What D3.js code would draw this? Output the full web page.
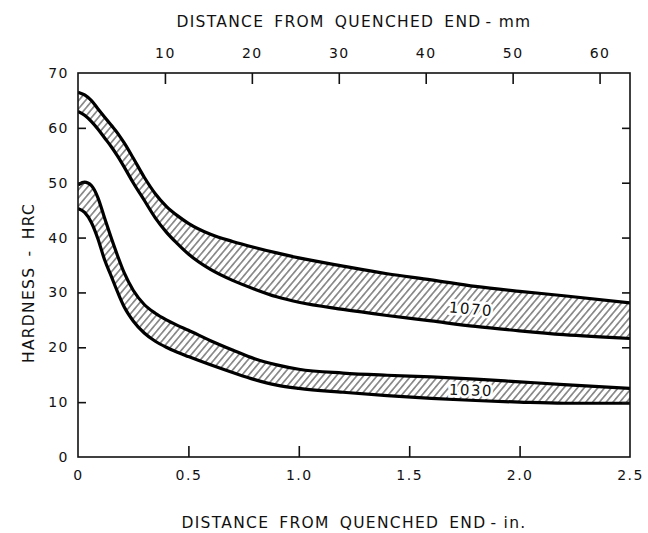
<!DOCTYPE html>
<html>
<head>
<meta charset="utf-8">
<script src="https://cdn.jsdelivr.net/npm/d3@7"></script>
<style>
  html, body { margin: 0; padding: 0; background: #fff; }
  svg { display: block; }
  text { font-family: "DejaVu Sans", "Liberation Sans", sans-serif; fill: #111; }
</style>
</head>
<body>
<svg id="chart" width="648" height="533"></svg>
<script>
// Distance from the quenched end (in.) at which each band edge is sampled
const distanceIn = [0, 0.03, 0.06, 0.09, 0.12, 0.15, 0.18, 0.21, 0.25, 0.3, 0.35, 0.4, 0.45, 0.5,
                    0.6, 0.7, 0.8, 0.9, 1.0, 1.2, 1.4, 1.6, 1.8, 2.0, 2.2, 2.5];

// Hardness band for 1070 steel (HRC)
const hrc1070Max = [66.5, 66.0, 65.0, 63.5, 62.0, 60.5, 59.0, 57.2, 54.5, 51.0, 48.0, 45.7, 44.0, 42.6,
                    40.6, 39.3, 38.2, 37.2, 36.3, 34.8, 33.4, 32.3, 31.1, 30.2, 29.4, 28.1];
const hrc1070Min = [63.0, 62.3, 61.2, 59.8, 58.2, 56.6, 54.8, 52.8, 50.0, 46.8, 43.6, 41.0, 38.9, 37.0,
                    34.2, 32.2, 30.6, 29.2, 28.2, 26.9, 25.8, 24.8, 23.8, 23.0, 22.3, 21.6];

// Hardness band for 1030 steel (HRC)
const hrc1030Max = [49.6, 50.1, 49.5, 47.3, 43.6, 40.0, 36.6, 33.5, 30.4, 27.8, 26.2, 25.0, 24.0, 23.1,
                    21.2, 19.5, 17.9, 16.8, 16.0, 15.3, 14.9, 14.6, 14.2, 13.7, 13.2, 12.5];
const hrc1030Min = [45.3, 44.6, 42.8, 39.8, 36.0, 33.0, 30.0, 27.3, 24.8, 22.6, 21.1, 20.0, 19.1, 18.3,
                    16.8, 15.4, 14.1, 13.1, 12.5, 11.8, 11.2, 10.7, 10.3, 10.0, 9.8, 9.8];

// Tick values
const inchTicks = [0, 0.5, 1.0, 1.5, 2.0, 2.5];
const mmTicks = [10, 20, 30, 40, 50, 60];
const hrcTicks = [0, 10, 20, 30, 40, 50, 60, 70];

// Band labels: [text, distance in., HRC, tilt deg]
const bandLabels = [["1070", 1.78, 27.0, 5], ["1030", 1.78, 12.2, 2]];

const svg = d3.select("#chart");
const margin = { left: 78, top: 73, right: 18, bottom: 76 };
const W = 648 - margin.left - margin.right;
const H = 533 - margin.top - margin.bottom;

const x = d3.scaleLinear().domain([0, 2.5]).range([0, W]);
const xmm = d3.scaleLinear().domain([0, 2.5 * 25.4]).range([0, W]);
const y = d3.scaleLinear().domain([0, 70]).range([H, 0]);

const defs = svg.append("defs");
const pat = defs.append("pattern")
  .attr("id", "hatch")
  .attr("patternUnits", "userSpaceOnUse")
  .attr("width", 5.2).attr("height", 5.2)
  .attr("patternTransform", "rotate(40)");
pat.append("line")
  .attr("x1", 2.6).attr("y1", -1).attr("x2", 2.6).attr("y2", 6.2)
  .attr("stroke", "#111").attr("stroke-width", 0.85);

defs.append("clipPath").attr("id", "plotclip")
  .append("rect").attr("width", W).attr("height", H);

const g = svg.append("g").attr("transform", `translate(${margin.left},${margin.top})`);
const plot = g.append("g").attr("clip-path", "url(#plotclip)");

function band(maxArr, minArr) {
  const rows = distanceIn.map((d, i) => ({ d, hi: maxArr[i], lo: minArr[i] }));
  const area = d3.area().curve(d3.curveMonotoneX)
    .x(r => x(r.d)).y0(r => y(r.lo)).y1(r => y(r.hi));
  const lineHi = d3.line().curve(d3.curveMonotoneX).x(r => x(r.d)).y(r => y(r.hi));
  const lineLo = d3.line().curve(d3.curveMonotoneX).x(r => x(r.d)).y(r => y(r.lo));
  plot.append("path").datum(rows).attr("d", area).attr("fill", "url(#hatch)");
  [lineHi, lineLo].forEach(l => {
    plot.append("path").datum(rows).attr("d", l)
      .attr("fill", "none").attr("stroke", "#000").attr("stroke-width", 3.2)
      .attr("stroke-linejoin", "round");
  });
}
band(hrc1070Max, hrc1070Min);
band(hrc1030Max, hrc1030Min);

// band labels with a white knock-out behind the hatching
bandLabels.forEach(([t, d, h, rot]) => {
  plot.append("text")
    .attr("transform", `translate(${x(d)},${y(h)}) rotate(${rot})`)
    .attr("text-anchor", "middle").attr("dy", "0.36em")
    .attr("font-size", 15).attr("letter-spacing", 1.5)
    .attr("stroke", "#fff").attr("stroke-width", 5).attr("paint-order", "stroke")
    .text(t);
});

// frame
g.append("rect").attr("width", W).attr("height", H)
  .attr("fill", "none").attr("stroke", "#111").attr("stroke-width", 1.6);

function styleAxis(sel) {
  sel.select(".domain").remove();
  sel.selectAll(".tick line").attr("stroke", "#111").attr("stroke-width", 1.6);
  sel.selectAll(".tick text").attr("font-size", 14).attr("letter-spacing", 1.5)
    .style("font-family", "\"DejaVu Sans\", sans-serif").attr("fill", "#111");
}

// left axis: inward ticks, labels outside
const axLeft = g.append("g").call(
  d3.axisLeft(y).tickValues(hrcTicks).tickSize(-8).tickPadding(9).tickFormat(d3.format("d")));
styleAxis(axLeft);
axLeft.selectAll(".tick").filter(d => d === 0 || d === 70).select("line").remove();

// right side: inward ticks only
const axRight = g.append("g").attr("transform", `translate(${W},0)`).call(
  d3.axisRight(y).tickValues(hrcTicks.filter(d => d > 0 && d < 70)).tickSize(-8).tickFormat(""));
styleAxis(axRight);

// bottom axis (inches)
const axBottom = g.append("g").attr("transform", `translate(0,${H})`).call(
  d3.axisBottom(x).tickValues(inchTicks).tickSize(-11).tickPadding(13).tickFormat(d3.format(".1f")));
styleAxis(axBottom);
axBottom.selectAll(".tick text").text(d => d === 0 ? "0" : d3.format(".1f")(d));
axBottom.selectAll(".tick").filter(d => d === 0 || d === 2.5).select("line").remove();

// top axis (millimetres)
const axTop = g.append("g").call(
  d3.axisTop(xmm).tickValues(mmTicks).tickSize(-11).tickPadding(15).tickFormat(d3.format("d")));
styleAxis(axTop);

// axis titles: wide gaps between words, tight around the unit dash
function axisTitle(sel, words, unit) {
  sel.attr("text-anchor", "middle").attr("font-size", 15.5).attr("letter-spacing", 1.3);
  words.forEach((w, i) => sel.append("tspan").attr("dx", i ? 10 : 0).text(w));
  sel.append("tspan").attr("dx", 4).text("- " + unit);
}

axisTitle(svg.append("text").attr("x", margin.left + W / 2).attr("y", 27),
  ["DISTANCE", "FROM", "QUENCHED", "END"], "mm");

axisTitle(svg.append("text").attr("x", margin.left + W / 2).attr("y", 528),
  ["DISTANCE", "FROM", "QUENCHED", "END"], "in.");

svg.append("text")
  .attr("transform", `translate(34,${margin.top + 210}) rotate(-90)`)
  .attr("text-anchor", "middle").attr("font-size", 15.5).attr("letter-spacing", 1.3)
  .attr("word-spacing", 4)
  .text("HARDNESS - HRC");
</script>
</body>
</html>
